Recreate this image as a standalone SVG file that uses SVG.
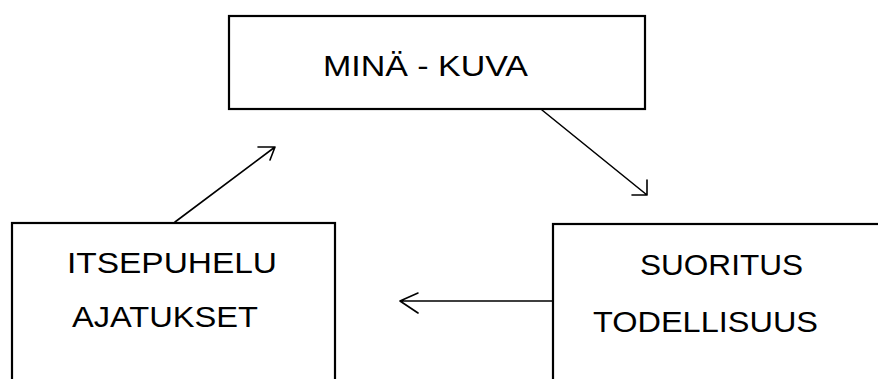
<svg xmlns="http://www.w3.org/2000/svg" width="878" height="379" viewBox="0 0 878 379">
<style>
.box{fill:#fff;stroke:#000;stroke-width:2.2}
.lbl{font-family:"Liberation Sans",Arial,sans-serif;font-size:29.5px;fill:#000}
.con{fill:none;stroke:#000;stroke-width:1.6;stroke-linecap:round;stroke-linejoin:round}
</style>
<rect width="878" height="379" fill="#fff"/>
<g id="mina-kuva">
<rect class="box" x="229" y="16" width="416" height="93"/>
<text class="lbl" x="323" y="76" textLength="205" lengthAdjust="spacingAndGlyphs">MINÄ - KUVA</text>
</g>
<g id="itsepuhelu">
<rect class="box" x="12" y="223" width="323" height="170"/>
<text class="lbl" x="67" y="273" textLength="210" lengthAdjust="spacingAndGlyphs">ITSEPUHELU</text>
<text class="lbl" x="72" y="327" textLength="186" lengthAdjust="spacingAndGlyphs">AJATUKSET</text>
</g>
<g id="suoritus">
<rect class="box" x="553" y="224" width="340" height="170"/>
<text class="lbl" x="640" y="275" textLength="163" lengthAdjust="spacingAndGlyphs">SUORITUS</text>
<text class="lbl" x="593" y="332" textLength="225" lengthAdjust="spacingAndGlyphs">TODELLISUUS</text>
</g>
<g id="connectors">
<path class="con" d="M175 222 L275 147 M258 147 L275 147 L270 160"/>
<path class="con" d="M542 110 L647 195 M632 195 L647 195 L647 180"/>
<path class="con" d="M553 301 L400 301 M418 293 L400 301 L418 313"/>
</g>
</svg>
